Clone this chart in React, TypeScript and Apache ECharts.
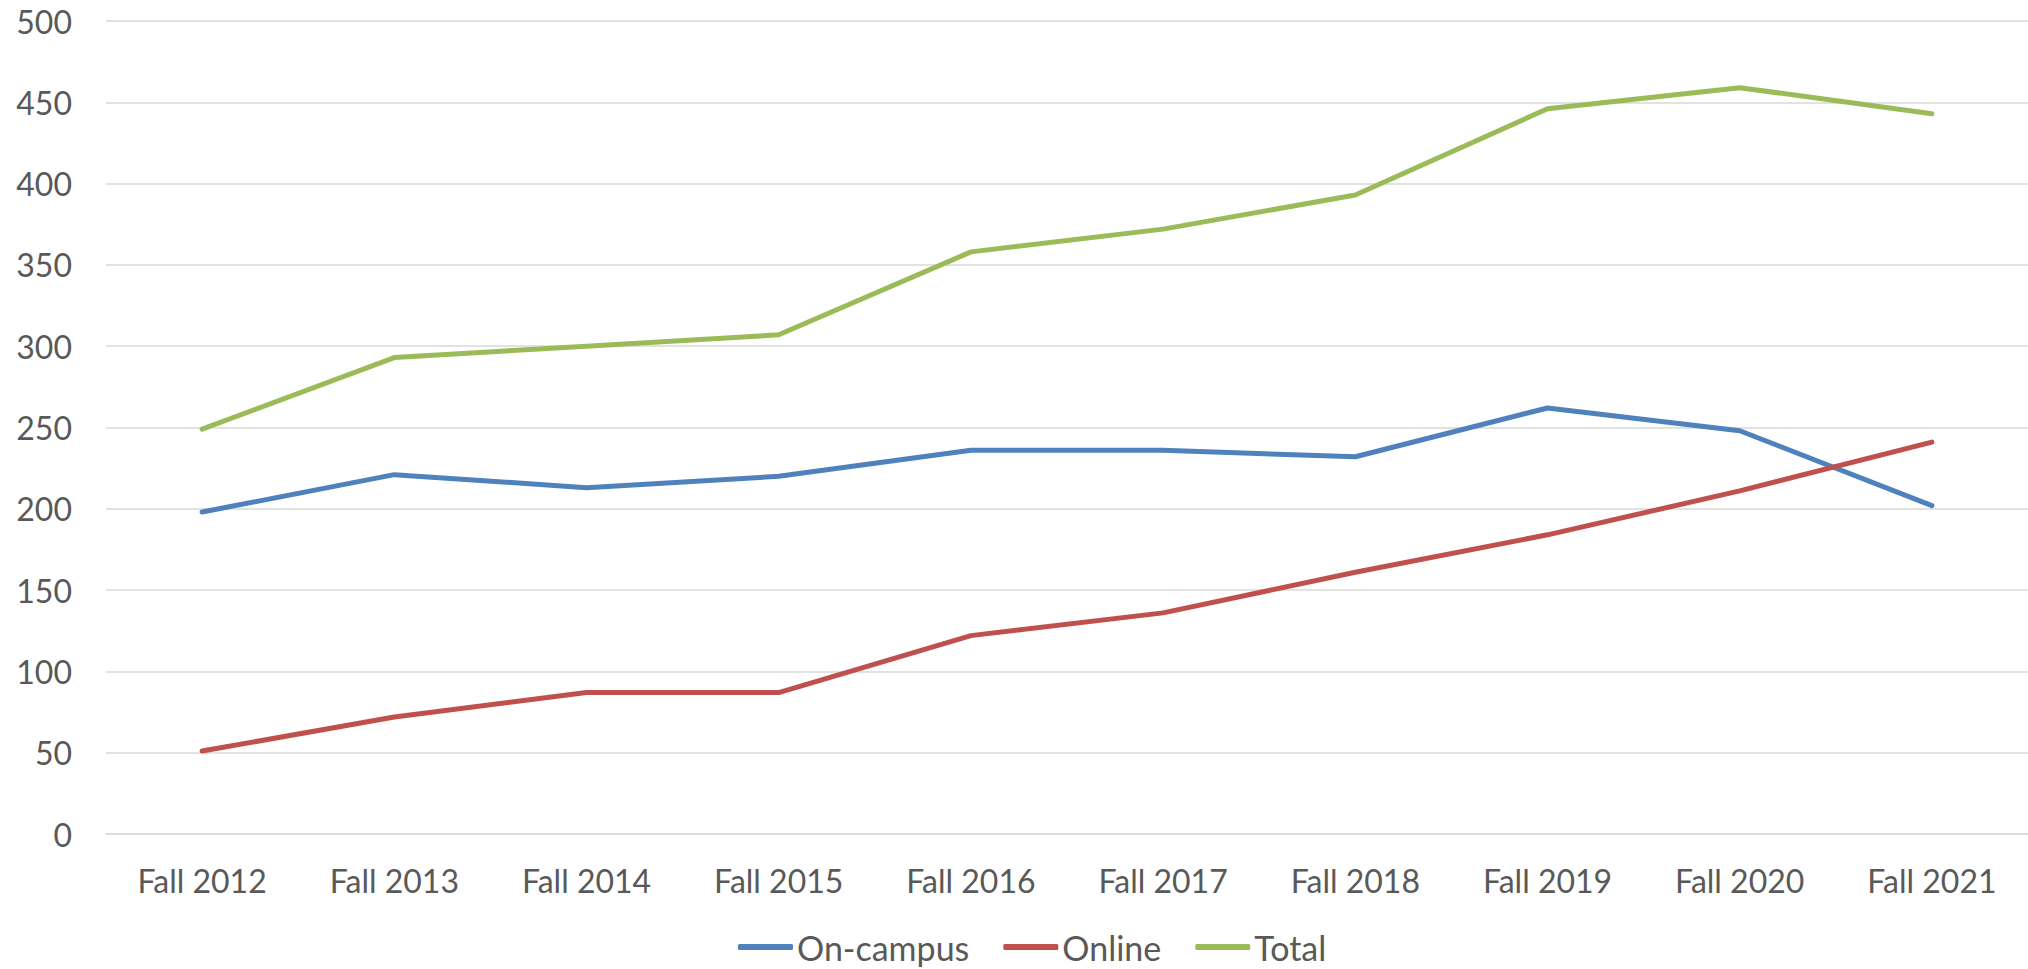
import React, { useEffect, useRef } from "react";
import * as echarts from "echarts";

const categories = ["Fall 2012", "Fall 2013", "Fall 2014", "Fall 2015", "Fall 2016", "Fall 2017", "Fall 2018", "Fall 2019", "Fall 2020", "Fall 2021"];
const onCampus = [198, 221, 213, 220, 236, 236, 232, 262, 248, 202];
const online = [51, 72, 87, 87, 122, 136, 161, 184, 211, 241];
const total = [249, 293, 300, 307, 358, 372, 393, 446, 459, 443];
const seriesNames = ["On-campus", "Online", "Total"];
const colors = ["#4F81BD", "#C0504D", "#9BBB59"];

export default function App() {
  const ref = useRef<HTMLDivElement>(null);
  useEffect(() => {
    if (!ref.current) return;
    const chart = echarts.init(ref.current, undefined, { renderer: "svg" });
    const font = "Lato, 'Open Sans', sans-serif";
    const mk = (name: string, data: number[], color: string) => ({
      name,
      type: "line",
      data,
      symbol: "none",
      lineStyle: { width: 5, color, cap: "round", join: "round" },
      itemStyle: { color },
    });
    chart.setOption({
      animation: false,
      backgroundColor: "#ffffff",
      grid: { left: 106, top: 21, width: 1926, height: 813, containLabel: false },
      legend: {
        left: 738,
        top: 929,
        padding: 0,
        itemWidth: 55,
        itemHeight: 6,
        itemGap: 34,
        icon: "roundRect",
        textStyle: { fontFamily: font, fontSize: 34, lineHeight: 36, color: "#595959", padding: [0, 0, 0, -1] },
        data: seriesNames,
      },
      xAxis: {
        type: "category",
        data: categories,
        boundaryGap: true,
        axisLine: { show: true, lineStyle: { color: "#D9D9D9", width: 1.5 } },
        axisTick: { show: false },
        axisLabel: { fontFamily: font, fontSize: 32, color: "#595959", margin: 30 },
        splitLine: { show: false },
      },
      yAxis: {
        type: "value",
        min: 0,
        max: 500,
        interval: 50,
        axisLine: { show: false },
        axisTick: { show: false },
        axisLabel: { fontFamily: font, fontSize: 32, color: "#595959", margin: 34 },
        splitLine: { show: true, lineStyle: { color: "#D9D9D9", width: 1.5 } },
      },
      series: [
        mk(seriesNames[0], onCampus, colors[0]),
        mk(seriesNames[1], online, colors[1]),
        mk(seriesNames[2], total, colors[2]),
      ],
    });
    return () => chart.dispose();
  }, []);
  return (
    <div
      ref={ref}
      style={{ position: "fixed", left: 0, top: 0, width: 2028, height: 969, background: "#fff" }}
    />
  );
}
